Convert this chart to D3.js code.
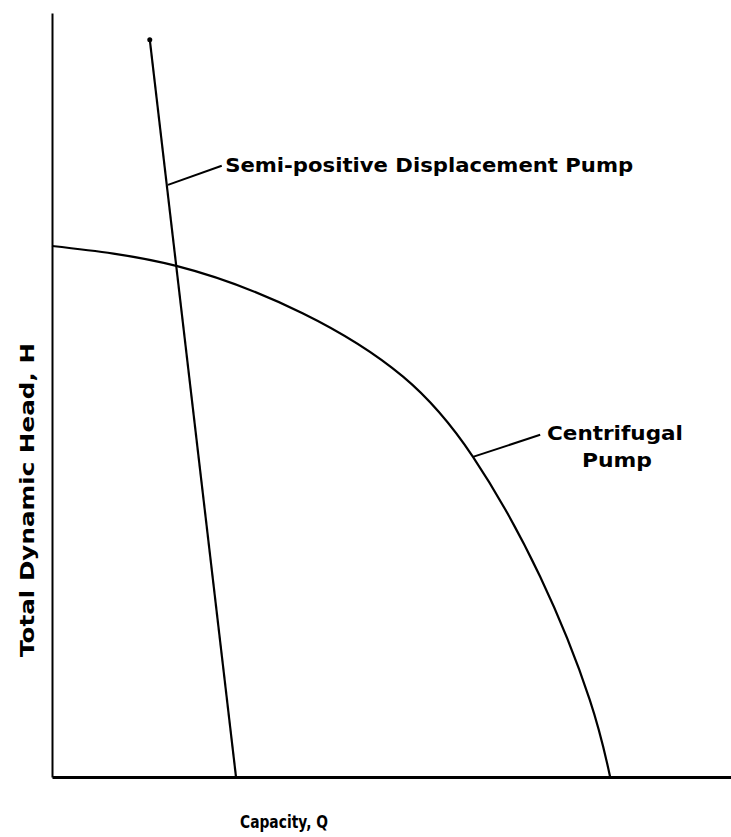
<!DOCTYPE html>
<html>
<head>
<meta charset="utf-8">
<script src="https://cdn.jsdelivr.net/npm/d3@7"></script>
<style>
html,body{margin:0;padding:0;background:#fff;}
text{font-family:"DejaVu Sans",sans-serif;font-weight:bold;fill:#000;}
</style>
</head>
<body>
<svg id="chart" width="731" height="837"></svg>
<script>
// Centrifugal pump curve (capacity %, head %)
const centrifugalQ = [0, 18.3, 36.9, 51.7, 62.0, 71.9, 79.2, 82.2];
const centrifugalH = [69.5, 66.9, 60.7, 52.4, 41.9, 26.2, 10.1, 0];
// Semi-positive displacement pump line
const semiQ = [14.4, 27.1];
const semiH = [96.5, 0];
// Labels
const xLabel = "Capacity, Q";
const yLabel = "Total Dynamic Head, H";
const semiLabel = "Semi-positive Displacement Pump";
const centLabel = ["Centrifugal", "Pump"];

const svg = d3.select("#chart");
const x = d3.scaleLinear().domain([0, 100]).range([52, 731]);
const y = d3.scaleLinear().domain([0, 100]).range([777, 13]);

// axes (no ticks)
svg.append("g").attr("transform", `translate(0,${y(0)})`)
  .call(d3.axisBottom(x).tickValues([]).tickSizeOuter(0))
  .call(g => g.select(".domain").attr("stroke", "#000").attr("stroke-width", 3));
svg.append("g").attr("transform", `translate(${x(0)},0)`)
  .call(d3.axisLeft(y).tickValues([]).tickSizeOuter(0))
  .call(g => g.select(".domain").attr("stroke", "#000").attr("stroke-width", 2));

const cent = centrifugalQ.map((q, i) => [q, centrifugalH[i]]);
svg.append("path").datum(cent)
  .attr("d", d3.line().x(d => x(d[0])).y(d => y(d[1])).curve(d3.curveNatural)(cent))
  .attr("fill", "none").attr("stroke", "#000").attr("stroke-width", 2.2);

const semi = semiQ.map((q, i) => [q, semiH[i]]);
svg.append("path").datum(semi)
  .attr("d", d3.line().x(d => x(d[0])).y(d => y(d[1]))(semi))
  .attr("fill", "none").attr("stroke", "#000").attr("stroke-width", 2.2);
svg.append("circle").attr("cx", x(semiQ[0])).attr("cy", y(semiH[0])).attr("r", 2.5).attr("fill", "#000");

// leaders
const semiLeader = [[17.08, 77.5], [25.0, 80.0]];
svg.append("path").attr("d", d3.line().x(d => x(d[0])).y(d => y(d[1]))(semiLeader))
  .attr("fill", "none").attr("stroke", "#000").attr("stroke-width", 2);
svg.append("text").attr("x", x(25.5)).attr("y", y(79.2))
  .attr("font-size", 20).attr("textLength", 408).attr("lengthAdjust", "spacingAndGlyphs")
  .text(semiLabel);

const centLeader = [[62.0, 41.9], [71.9, 44.8]];
svg.append("path").attr("d", d3.line().x(d => x(d[0])).y(d => y(d[1]))(centLeader))
  .attr("fill", "none").attr("stroke", "#000").attr("stroke-width", 2);
svg.append("text").attr("x", 547).attr("y", 440)
  .attr("font-size", 19).attr("textLength", 136).attr("lengthAdjust", "spacingAndGlyphs")
  .text(centLabel[0]);
svg.append("text").attr("x", 582).attr("y", 467)
  .attr("font-size", 19).attr("textLength", 70).attr("lengthAdjust", "spacingAndGlyphs")
  .text(centLabel[1]);

// axis titles
svg.append("text").attr("x", 240).attr("y", 828)
  .attr("font-size", 18).attr("textLength", 88).attr("lengthAdjust", "spacingAndGlyphs")
  .text(xLabel);
svg.append("text").attr("transform", "translate(34,657) rotate(-90)")
  .attr("font-size", 20).attr("textLength", 314).attr("lengthAdjust", "spacingAndGlyphs")
  .text(yLabel);
</script>
</body>
</html>
